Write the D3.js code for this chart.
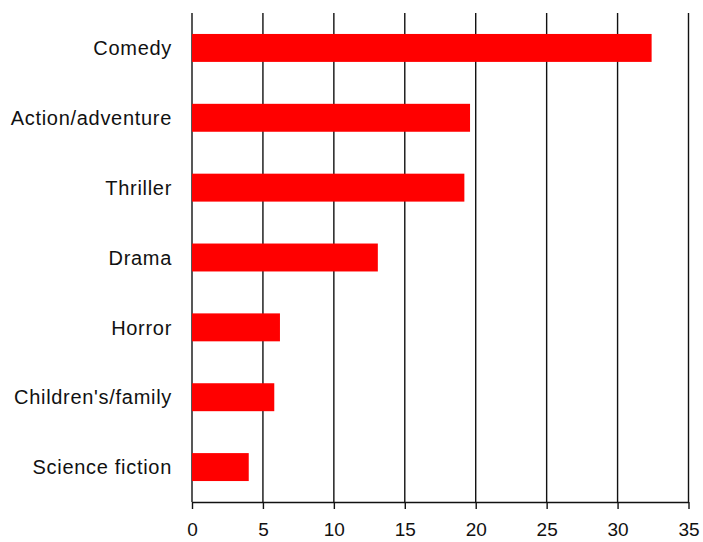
<!DOCTYPE html>
<html><head><meta charset="utf-8">
<script src="https://cdn.jsdelivr.net/npm/d3@7"></script>
<style>html,body{margin:0;padding:0;background:#fff;}</style>
</head><body>
<svg id="chart" width="703" height="542"></svg>
<script>
const categories = ["Comedy","Action/adventure","Thriller","Drama","Horror","Children's/family","Science fiction"];
const values = [32.4, 19.6, 19.2, 13.1, 6.2, 5.8, 4.0];
const xTicks = [0,5,10,15,20,25,30,35];

const W = 703, H = 542;
const m = {top: 13, right: 14.5, bottom: 40, left: 192};
const svg = d3.select("#chart");
const x = d3.scaleLinear().domain([0,35]).range([m.left, W - m.right]);
const y = d3.scaleBand().domain(categories).range([m.top, H - m.bottom]).paddingInner(0.6).paddingOuter(0.3);

// gridlines
svg.append("g").selectAll("line").data(xTicks).join("line")
  .attr("x1", d => x(d)).attr("x2", d => x(d))
  .attr("y1", m.top).attr("y2", H - m.bottom)
  .attr("stroke", "#111").attr("stroke-width", 1.4);

// bars
svg.append("g").selectAll("rect").data(values).join("rect")
  .attr("x", x(0)).attr("y", (d,i) => y(categories[i]))
  .attr("width", d => x(d) - x(0)).attr("height", y.bandwidth())
  .attr("fill", "#ff0000");

// x axis
const xAxis = svg.append("g").attr("transform", `translate(0,${H - m.bottom})`)
  .call(d3.axisBottom(x).tickValues(xTicks).tickSize(7).tickPadding(14).tickSizeOuter(0));
xAxis.select(".domain").attr("stroke", "#111").attr("stroke-width", 1.4);
xAxis.selectAll(".tick line").attr("stroke", "#111").attr("stroke-width", 1.4);
xAxis.selectAll("text").attr("font-family", "Liberation Sans, Arial, sans-serif").attr("font-size", 19).attr("fill", "#111");

// y labels
svg.append("g").selectAll("text").data(categories).join("text")
  .attr("x", m.left - 20).attr("y", d => y(d) + y.bandwidth()/2)
  .attr("text-anchor", "end").attr("dy", "0.36em")
  .attr("font-family", "Liberation Sans, Arial, sans-serif").attr("font-size", 20)
  .attr("letter-spacing", "0.7px").attr("fill", "#111")
  .text(d => d);
</script>
</body></html>
